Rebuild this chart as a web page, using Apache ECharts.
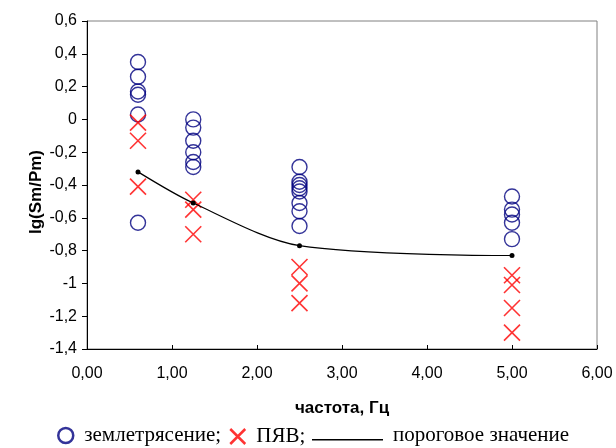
<!DOCTYPE html>
<html>
<head>
<meta charset="utf-8">
<script src="https://cdn.jsdelivr.net/npm/echarts@6/dist/echarts.min.js"></script>
<style>
  html, body { margin: 0; padding: 0; background: #fff; }
  #chart { width: 616px; height: 448px; }
</style>
</head>
<body>
<div id="chart"></div>
<script>
// частоты, Гц
const freqs = [0.6, 1.25, 2.5, 5];

// землетрясения, lg(Sm/Pm) по каждой частоте
const quakeF1 = [0.35, 0.26, 0.17, 0.15, 0.03, -0.63];
const quakeF2 = [0.0, -0.05, -0.13, -0.2, -0.26, -0.29];
const quakeF3 = [-0.29, -0.38, -0.4, -0.42, -0.44, -0.51, -0.56, -0.65];
const quakeF4 = [-0.47, -0.55, -0.58, -0.63, -0.73];

// ПЯВ
const blastF1 = [-0.02, -0.13, -0.41];
const blastF2 = [-0.49, -0.55, -0.7];
const blastF3 = [-0.9, -1.0, -1.12];
const blastF4 = [-0.95, -1.01, -1.15, -1.3];

// пороговое значение
const threshold = [-0.32, -0.51, -0.77, -0.83];

const quake = [quakeF1, quakeF2, quakeF3, quakeF4];
const blast = [blastF1, blastF2, blastF3, blastF4];

const toPoints = (groups) => {
  const pts = [];
  groups.forEach((g, i) => g.forEach(v => pts.push([freqs[i], v])));
  return pts;
};

const crossPath = 'path://M0,0L10,10M10,0L0,10';
// отрезок линии в нижней части значка легенды (точки по углам задают рамку)
const linePath = 'path://M0,0L0.01,0M0,12L71,12L71,13.5L0,13.5ZM0,17L0.01,17';
const serif = 'Liberation Serif';
const sans = 'Liberation Sans';

const myChart = echarts.init(document.getElementById('chart'));
const option = {
  animation: false,
  grid: {
    left: 87, right: 19, top: 21, bottom: 99,
    show: true, borderColor: '#808080', borderWidth: 1
  },
  xAxis: {
    type: 'value',
    min: 0, max: 6, interval: 1,
    name: 'частота, Гц',
    nameLocation: 'middle',
    nameGap: 51,
    nameTextStyle: { fontFamily: sans, fontSize: 17, fontWeight: 'bold', color: '#000' },
    axisLine: { onZero: false, lineStyle: { color: '#000', width: 1 } },
    axisTick: { inside: true, length: 4, lineStyle: { color: '#000' } },
    axisLabel: {
      margin: 17, fontFamily: sans, fontSize: 16, color: '#000',
      formatter: v => v.toFixed(2).replace('.', ',')
    },
    splitLine: { show: false }
  },
  yAxis: {
    type: 'value',
    min: -1.4, max: 0.6, interval: 0.2,
    name: 'lg(Sm/Pm)',
    nameLocation: 'middle',
    nameGap: 42,
    nameMoveOverlap: false,
    nameRotate: 90,
    nameTextStyle: {
      fontFamily: sans, fontSize: 17, fontWeight: 'bold', color: '#000',
      padding: [0, 14, 0, 0]
    },
    axisLine: { show: true, onZero: false, lineStyle: { color: '#000', width: 1 } },
    axisTick: { show: true, length: 5, lineStyle: { color: '#000' } },
    axisLabel: {
      margin: 10, fontFamily: sans, fontSize: 16, color: '#000',
      formatter: v => String(Math.round(v * 10) / 10).replace('.', ',')
    },
    splitLine: { show: false }
  },
  legend: [
    {
      data: [{
        name: 'землетрясение', icon: 'circle',
        itemStyle: { color: 'rgba(0,0,0,0)', borderColor: '#000080', borderWidth: 2.5 }
      }],
      left: 57, top: 425, padding: 0, itemWidth: 15, itemHeight: 17,
      selectedMode: false,
      formatter: n => n + ';',
      textStyle: { fontFamily: serif, fontSize: 21, color: '#000', padding: [0, 0, 0, 6] }
    },
    {
      data: [{
        name: 'ПЯВ', icon: crossPath,
        itemStyle: { color: 'rgba(0,0,0,0)', borderColor: '#ff0000', borderWidth: 2.5 }
      }],
      left: 229, top: 426, padding: 0, itemWidth: 17, itemHeight: 15,
      selectedMode: false,
      formatter: n => n + ';',
      textStyle: { fontFamily: serif, fontSize: 21, color: '#000', padding: [0, 0, 0, 5] }
    },
    {
      data: [{ name: 'пороговое значение', icon: linePath, itemStyle: { color: '#000', borderWidth: 0 } }],
      left: 312, top: 425, padding: 0, itemWidth: 71, itemHeight: 17,
      symbolKeepAspect: false,
      selectedMode: false,
      textStyle: { fontFamily: serif, fontSize: 21, color: '#000', padding: [0, 0, 0, 5] }
    }
  ],
  series: [
    {
      name: 'землетрясение',
      type: 'scatter',
      symbol: 'circle',
      symbolSize: 15,
      itemStyle: { color: 'rgba(0,0,0,0)', borderColor: '#000080', borderWidth: 1.4 },
      data: toPoints(quake)
    },
    {
      name: 'ПЯВ',
      type: 'scatter',
      symbol: crossPath,
      symbolSize: 16,
      itemStyle: { color: 'rgba(0,0,0,0)', borderColor: '#ff0000', borderWidth: 1.6 },
      data: toPoints(blast)
    },
    {
      name: 'пороговое значение',
      type: 'line',
      smooth: 0.3,
      symbol: 'circle',
      symbolSize: 5,
      showSymbol: true,
      itemStyle: { color: '#000' },
      lineStyle: { color: '#000', width: 1.2 },
      data: freqs.map((f, i) => [f, threshold[i]]),
      z: 3
    }
  ]
};
myChart.setOption(option);
</script>
</body>
</html>
